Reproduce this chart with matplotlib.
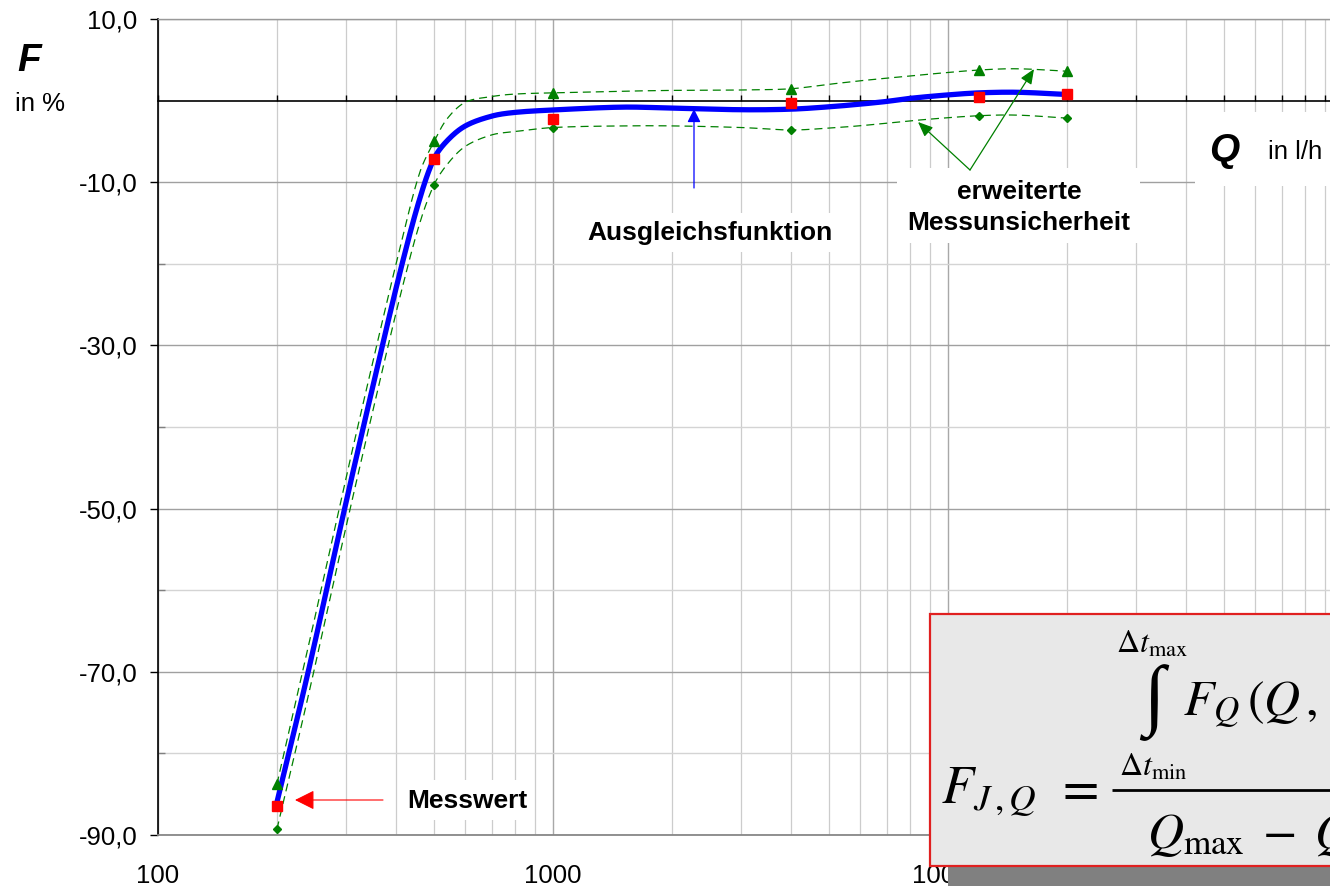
import numpy as np
import matplotlib
matplotlib.use("Agg")
import matplotlib.pyplot as plt
from matplotlib.patches import Rectangle, FancyArrowPatch
from matplotlib.ticker import FixedLocator, NullFormatter, FixedFormatter

# ---------------- data ----------------
Q_mess = [200, 500, 1000, 4000, 12000, 20000]
F_mess = [-86.5, -7.2, -2.2, -0.35, 0.5, 0.8]
F_oben = [-83.8, -5.0, 0.95, 1.45, 3.75, 3.6]
F_unten = [-89.3, -10.3, -3.3, -3.6, -1.85, -2.15]

Q_fit = [200, 240, 300, 370, 415, 460, 500, 540, 600, 700, 800, 1000, 1500, 2000,
         3000, 4000, 5000, 6000, 7000, 8000, 10000, 12000, 15000, 20000]
F_fit = [-86.0, -70.0, -49.0, -30.0, -20.0, -12.0, -7.1, -4.9, -3.1, -1.9, -1.45, -1.15,
         -0.8, -0.92, -1.12, -1.05, -0.76, -0.43, -0.1, 0.27, 0.7, 0.95, 1.02, 0.75]

Q_band = [200, 240, 300, 370, 415, 460, 500, 540, 600, 700, 800, 1000, 1500, 2000,
          3000, 4000, 5000, 6000, 7000, 9000, 12000, 15000, 20000]
F_band_oben = [-83.8, -67.0, -46.0, -27.0, -17.0, -8.8, -5.0, -2.2, -0.2, 0.5, 0.8, 0.95,
               1.15, 1.25, 1.3, 1.45, 2.0, 2.43, 2.75, 3.25, 3.75, 3.9, 3.6]
F_band_unten = [-89.3, -73.0, -52.0, -33.0, -23.0, -15.0, -10.3, -7.8, -5.6, -4.2, -3.8, -3.3,
                -3.1, -3.1, -3.3, -3.6, -3.37, -3.08, -2.76, -2.27, -1.85, -1.78, -2.15]

y_ticks_major = [10, -10, -30, -50, -70, -90]
y_ticks_minor = [-20, -40, -60, -80]
x_ticks = [100, 1000, 10000, 100000]
x_ticklabels = ["100", "1000", "10000", "100000"]

# ---------------- setup ----------------
plt.rcParams['font.family'] = ['Liberation Sans', 'DejaVu Sans']
plt.rcParams['mathtext.fontset'] = 'stix'

W, H = 1330, 886
fig = plt.figure(figsize=(W / 100, H / 100), dpi=100)
fig.patch.set_facecolor('white')

ax_l, ax_r, ax_t, ax_b = 158, 1343, 19, 835
rect = [ax_l / W, 1 - ax_b / H, (ax_r - ax_l) / W, (ax_b - ax_t) / H]
ax = fig.add_axes(rect)
ax.set_xscale('log')
ax.set_xlim(100, 100000)
ax.set_ylim(-90, 10)

# grid
ax.xaxis.set_major_locator(FixedLocator(x_ticks))
ax.xaxis.set_major_formatter(FixedFormatter(x_ticklabels))
minor_x = [m * d for d in (100, 1000, 10000) for m in range(2, 10)]
ax.xaxis.set_minor_locator(FixedLocator(minor_x))
ax.xaxis.set_minor_formatter(NullFormatter())
ax.yaxis.set_major_locator(FixedLocator(y_ticks_major))
ax.yaxis.set_major_formatter(FixedFormatter([f"{v:.1f}".replace('.', ',') for v in y_ticks_major]))
ax.yaxis.set_minor_locator(FixedLocator(y_ticks_minor))

ax.grid(True, which='major', axis='x', color='#a8a8a8', lw=1.0)
ax.grid(True, which='minor', axis='x', color='#cccccc', lw=0.9)
ax.grid(True, which='major', axis='y', color='#a0a0a0', lw=1.0)
ax.grid(True, which='minor', axis='y', color='#d4d4d4', lw=1.0)
ax.set_axisbelow(True)

ax.tick_params(axis='x', which='both', length=0, labelsize=18.5, pad=21)
ax.tick_params(axis='y', which='major', direction='out', length=5.8, width=1,
               color='black', labelsize=18.5, pad=9)
ax.tick_params(axis='y', which='minor', direction='in', length=5, width=1, color='#808080')

ax.spines['left'].set_color('black')
ax.spines['left'].set_linewidth(1.2)
ax.spines['bottom'].set_color('#888888')
ax.spines['bottom'].set_linewidth(1.3)
ax.spines['top'].set_color('#999999')
ax.spines['top'].set_linewidth(1.0)
ax.spines['right'].set_visible(False)

# zero line with upward ticks
ax2 = ax.twiny()
ax2.set_xscale('log')
ax2.set_xlim(100, 100000)
for s in ('top', 'left', 'right'):
    ax2.spines[s].set_visible(False)
ax2.spines['bottom'].set_position(('data', 0))
ax2.spines['bottom'].set_color('black')
ax2.spines['bottom'].set_linewidth(1.2)
ax2.xaxis.set_ticks_position('bottom')
ax2.xaxis.set_major_locator(FixedLocator(x_ticks))
ax2.xaxis.set_minor_locator(FixedLocator(minor_x))
ax2.tick_params(axis='x', which='both', direction='in', length=4.3, width=1, color='black',
                labelbottom=False, labeltop=False, bottom=True, top=False)


def smooth(axis, xs, ys, n=40):
    pts = axis.transData.transform(np.column_stack([xs, ys]))
    out = [pts[0]]
    m = len(pts)
    for i in range(m - 1):
        p0 = pts[i - 1] if i > 0 else pts[i]
        p1 = pts[i]
        p2 = pts[i + 1]
        p3 = pts[i + 2] if i + 2 < m else pts[i + 1]
        d01 = np.hypot(*(p1 - p0))
        d12 = np.hypot(*(p2 - p1))
        d23 = np.hypot(*(p3 - p2))
        f1 = d12 / (3 * (d01 + d12)) if d01 + d12 > 0 else 0
        f2 = d12 / (3 * (d12 + d23)) if d12 + d23 > 0 else 0
        c1 = p1 + (p2 - p0) * f1
        c2 = p2 - (p3 - p1) * f2
        t = np.linspace(0, 1, n)[1:, None]
        seg = (1 - t) ** 3 * p1 + 3 * (1 - t) ** 2 * t * c1 + 3 * (1 - t) * t ** 2 * c2 + t ** 3 * p2
        out.extend(seg)
    out = np.array(out)
    res = axis.transData.inverted().transform(out)
    return res[:, 0], res[:, 1]


green = '#008000'
dash = (0, (6.4, 4))
xu, yu = smooth(ax2, Q_band, F_band_oben)
xl, yl = smooth(ax2, Q_band, F_band_unten)
ax2.plot(xu, yu, color=green, lw=0.9, ls=dash, zorder=4)
ax2.plot(xl, yl, color=green, lw=0.9, ls=dash, zorder=4)
xf, yf = smooth(ax2, Q_fit, F_fit)
ax2.plot(xf, yf, color='#0000ff', lw=3.8, zorder=5, solid_capstyle='butt')
ax2.plot(Q_mess, F_oben, ls='none', marker='^', ms=7, color=green, mec=green, zorder=6)
ax2.plot(Q_mess, F_unten, ls='none', marker='D', ms=4.2, color=green, mec=green, zorder=6)
ax2.plot(Q_mess, F_mess, ls='none', marker='s', ms=7.5, color='#ff0000', mec='#ff0000', zorder=7)
ax2.set_ylim(-90, 10)

# ---------------- overlay (pixel coords) ----------------
ov = fig.add_axes([0, 0, 1, 1], zorder=10)
ov.set_xlim(0, W)
ov.set_ylim(H, 0)
ov.axis('off')
ov.patch.set_visible(False)

# axis titles
ov.text(29, 61, 'F', fontsize=28, fontweight='bold', fontstyle='italic', ha='center', va='center')
ov.text(15, 104, 'in %', fontsize=18.5, ha='left', va='center')

# white label boxes
for (x0, y0, x1, y1) in [(403, 780, 530, 820), (583, 213, 838, 252),
                         (897, 168, 1140, 243), (1195, 112, 1345, 186)]:
    ov.add_patch(Rectangle((x0, y0), x1 - x0, y1 - y0, facecolor='white', edgecolor='none', zorder=1))

ov.text(1224, 151, 'Q', fontsize=28, fontweight='bold', fontstyle='italic', ha='center', va='center', zorder=2)
ov.text(1268, 152, 'in l/h', fontsize=18.5, ha='left', va='center', zorder=2)
ov.text(710, 233, 'Ausgleichsfunktion', fontsize=19, fontweight='bold', ha='center', va='center', zorder=2)
ov.text(1019, 192, 'erweiterte', fontsize=19, fontweight='bold', ha='center', va='center', zorder=2)
ov.text(1019, 223, 'Messunsicherheit', fontsize=19, fontweight='bold', ha='center', va='center', zorder=2)
ov.text(467, 801, 'Messwert', fontsize=19, fontweight='bold', ha='center', va='center', zorder=2)

# arrows
def arrow(p_from, p_to, color, hl, hw, lw):
    a = FancyArrowPatch(p_from, p_to, arrowstyle=f'-|>,head_length={hl},head_width={hw}',
                        color=color, lw=lw, shrinkA=0, shrinkB=0, mutation_scale=1, zorder=3)
    ov.add_patch(a)

arrow((383, 800), (295, 800), '#ff0000', 12, 6, 0.8)
arrow((694, 188), (694, 109), '#0000ff', 8, 4, 0.9)
arrow((970, 170), (918, 122), green, 9, 3.8, 0.9)
arrow((970, 170), (1034, 69), green, 9, 3.8, 0.9)

# formula box with shadow
ov.add_patch(Rectangle((948, 634), 420, 262, facecolor='#808080', edgecolor='none', zorder=4))
ov.add_patch(Rectangle((930, 614), 420, 252, facecolor='#e8e8e8', edgecolor='#e02020', lw=1.6, zorder=5))
ov.text(941, 803, r'$F_{J\,,Q}$', fontsize=38, ha='left', va='baseline', zorder=6)
ov.text(1077, 790, r'$=$', fontsize=38, ha='center', va='center', zorder=6)
ov.plot([1112, 1400], [790, 790], color='black', lw=2.0, zorder=6, solid_capstyle='butt')
ov.text(1116, 653, r'$\Delta t_{\mathrm{max}}$', fontsize=23, ha='left', va='baseline', zorder=6)
ov.text(1154, 703, '\u222b', fontsize=56, family=['Liberation Serif', 'DejaVu Serif'],
        ha='center', va='center', zorder=6)
ov.text(1183, 715, r'$F_Q\,(Q\,,\,t)\,dt$', fontsize=36, ha='left', va='baseline', zorder=6)
ov.text(1119, 776, r'$\Delta t_{\mathrm{min}}$', fontsize=23, ha='left', va='baseline', zorder=6)
ov.text(1147, 848, r'$Q_{\mathrm{max}}\;-\;Q_{\mathrm{min}}$', fontsize=36, ha='left', va='baseline', zorder=6)

fig.savefig('out.png', dpi=100)
